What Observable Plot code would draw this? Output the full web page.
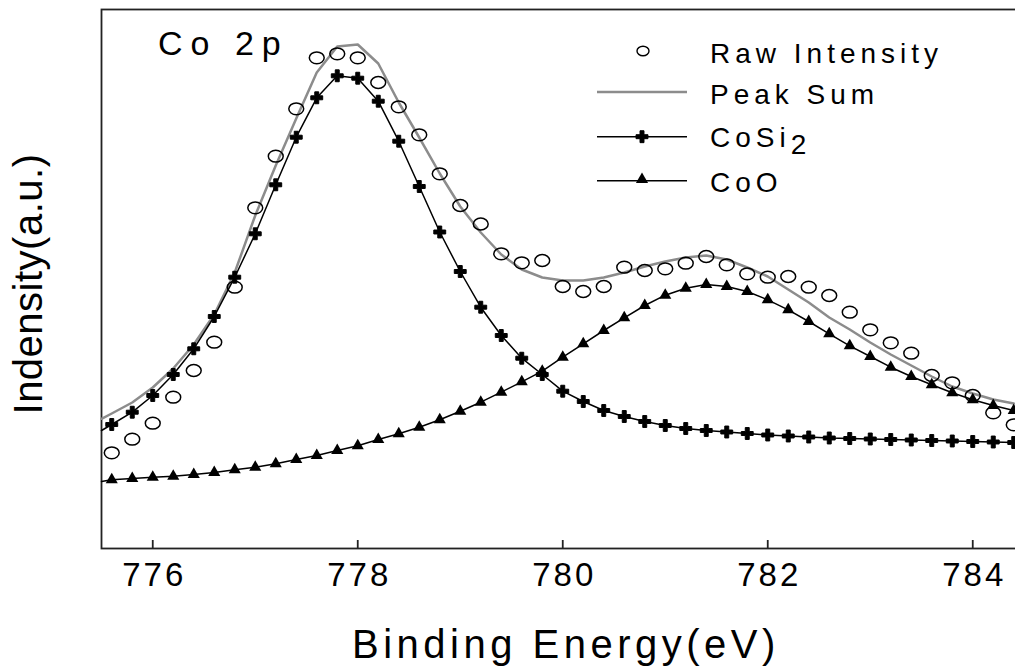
<!DOCTYPE html>
<html><head><meta charset="utf-8">
<script src="https://cdn.jsdelivr.net/npm/d3@7"></script>
<script src="https://cdn.jsdelivr.net/npm/@observablehq/plot@0.6"></script>
<style>
html,body{margin:0;padding:0;background:#fff;overflow:hidden;}
#wrap{position:relative;width:1015px;height:671px;overflow:hidden;font-family:"Liberation Sans",Arial,sans-serif;}
#chart{position:absolute;left:0;top:0;width:1030px;}
#chart svg{max-width:none !important;}
#overlay{position:absolute;left:0;top:0;font-family:"Liberation Sans",Arial,sans-serif;}
#chart g[aria-label="text"] text{letter-spacing:3px;}
</style></head><body>
<div id="wrap"><div id="chart"></div><svg id="overlay" width="1015" height="671"></svg></div>
<script>
// Binding energy grid (eV); the fitted curves start at the frame edge 775.5
const energyFit = [775.5,775.6,775.8,776.0,776.2,776.4,776.6,776.8,777.0,777.2,777.4,777.6,777.8,778.0,778.2,778.4,778.6,778.8,779.0,779.2,779.4,779.6,779.8,780.0,780.2,780.4,780.6,780.8,781.0,781.2,781.4,781.6,781.8,782.0,782.2,782.4,782.6,782.8,783.0,783.2,783.4,783.6,783.8,784.0,784.2,784.4];
// Raw intensity (open circles), at energyFit[1..]
const rawIntensity = [95.7,109.3,125.3,151.3,178,206.3,261.3,340.7,392.3,439.7,490.7,494.7,490.7,466,441.7,413.7,374.7,343,324.5,294.7,285.7,288,262,257,262,281.3,278,279.7,285.3,292,283.7,274.7,271.3,272,261.3,253,236.3,218.7,205.7,195.3,173,165.7,153,135.7,123.7];
// Fitted curves (arbitrary units), at energyFit
const peakSum = [129.7,135,146,161,180,204,234,276,333,383,430,476,502,504,485,446,411,375,342,316,294,279,271,268,268,271,276,282,287,291,293,289,281,272,259,246,231,219,206,194,183,172,162,155,149,145];
const coSi2 = [118,124,136.3,153,174,199.7,232,271.3,314.7,363.7,411.3,450.7,472.7,470.3,447.3,407.3,362,316.5,277,241.3,213,190.3,174,157.3,147,138,132,127,123,120,118,116.5,115,113.5,112.5,111.5,110.5,110,109.5,109,108.5,108,107.5,107,106.5,106];
const coO = [67,68.7,70,71.3,72.3,74,76,78.7,81.3,84.7,89,93,98,102.7,109,114.7,121.3,128.7,137.3,146.3,156.3,166.7,177.3,191.3,204.7,218,230.7,243,253.3,260.3,264,262,257,248.7,238.7,227,214.7,202.7,192,181.3,172,163.7,155.7,148.7,143,138];
const xTicks = [776,778,780,782,784];
const seriesNames = ["Raw Intensity","Peak Sum","CoSi","CoO"];

const fit = energyFit.map((e,i)=>({e, sum: peakSum[i], cosi: coSi2[i], coo: coO[i]}));
const markers = fit.slice(1);
const raw = energyFit.slice(1).map((e,i)=>({e, v: rawIntensity[i]}));

const ellipse = {draw(ctx, size){
  const r = Math.sqrt(size/Math.PI), rx = r*1.2, ry = r*0.95, k = 0.5523;
  ctx.moveTo(rx,0);
  ctx.bezierCurveTo(rx, ry*k, rx*k, ry, 0, ry);
  ctx.bezierCurveTo(-rx*k, ry, -rx, ry*k, -rx, 0);
  ctx.bezierCurveTo(-rx, -ry*k, -rx*k, -ry, 0, -ry);
  ctx.bezierCurveTo(rx*k, -ry, rx, -ry*k, rx, 0);
  ctx.closePath();
}};

const font = '"Liberation Sans", Arial, sans-serif';
const chart = Plot.plot({
  width: 1030, height: 671,
  marginTop: 9, marginBottom: 123, marginLeft: 101, marginRight: 6.5,
  x: {domain: [775.5, 784.5], axis: null},
  y: {domain: [0, 539], axis: null},
  style: {background: "white", fontFamily: font, overflow: "visible", maxWidth: "none"},
  marks: [
    Plot.frame({stroke: "#222", strokeWidth: 1.8}),
    Plot.tickX(xTicks, {x: d => d, stroke: "#222", strokeWidth: 1.8, insetTop: 531}),
    Plot.text(xTicks, {x: d => d, text: d => String(d), frameAnchor: "bottom", dy: 37, dx: 1.5, fontSize: 33, fill: "#000"}),
    Plot.line(fit, {x: "e", y: "sum", stroke: "#8c8c8c", strokeWidth: 2.5}),
    Plot.line(fit, {x: "e", y: "cosi", stroke: "#000", strokeWidth: 1.5}),
    Plot.line(fit, {x: "e", y: "coo", stroke: "#000", strokeWidth: 1.5}),
    Plot.dot(markers, {x: "e", y: "cosi", symbol: "cross", r: 5, fill: "#000", stroke: "#000", strokeWidth: 1}),
    Plot.dot(markers, {x: "e", y: "coo", symbol: "triangle", r: 4.5, fill: "#000"}),
    Plot.dot(raw, {x: "e", y: "v", symbol: ellipse, r: 6.2, stroke: "#000", strokeWidth: 1.5, fill: "none"})
  ]
});
document.getElementById("chart").appendChild(chart);

// Overlay: panel label, legend, axis titles
const ov = d3.select("#overlay");
ov.append("text").attr("x", 158).attr("y", 55).attr("font-size", 34).attr("letter-spacing", 8).text("Co 2p");

const lg = ov.append("g").attr("font-size", 28).attr("letter-spacing", 5);
// Raw Intensity
lg.append("path").attr("transform", "translate(643,51)")
  .attr("d", () => { const p = d3.path(); ellipse.draw(p, Math.PI*5*5); return p.toString(); })
  .attr("fill", "none").attr("stroke", "#000").attr("stroke-width", 1.4);
lg.append("text").attr("x", 710).attr("y", 63.3).text(seriesNames[0]);
// Peak Sum
lg.append("line").attr("x1", 597).attr("x2", 687).attr("y1", 92).attr("y2", 92).attr("stroke", "#8c8c8c").attr("stroke-width", 2.5);
lg.append("text").attr("x", 710).attr("y", 104).text(seriesNames[1]);
// CoSi2
lg.append("line").attr("x1", 597).attr("x2", 687).attr("y1", 136.7).attr("y2", 136.7).attr("stroke", "#000").attr("stroke-width", 1.5);
lg.append("path").attr("transform", "translate(642,136.7)").attr("d", d3.symbol(d3.symbolCross, Math.PI*5*5)()).attr("fill", "#000").attr("stroke", "#000");
const t3 = lg.append("text").attr("x", 710).attr("y", 146.7);
t3.append("tspan").text(seriesNames[2]);
t3.append("tspan").attr("dy", 7).text("2");
// CoO
lg.append("line").attr("x1", 597).attr("x2", 687).attr("y1", 180.7).attr("y2", 180.7).attr("stroke", "#000").attr("stroke-width", 1.5);
lg.append("path").attr("transform", "translate(642,179.5)").attr("d", d3.symbol(d3.symbolTriangle, Math.PI*4.5*4.5)()).attr("fill", "#000");
lg.append("text").attr("x", 710).attr("y", 191.7).text(seriesNames[3]);

ov.append("text").attr("transform", "translate(41.7,284) rotate(-90)").attr("text-anchor", "middle")
  .attr("font-size", 40).attr("letter-spacing", 0.5).text("Indensity(a.u.)");
ov.append("text").attr("x", 352).attr("y", 658.3).attr("font-size", 40).attr("letter-spacing", 4.5).text("Binding Energy(eV)");
</script>
</body></html>
